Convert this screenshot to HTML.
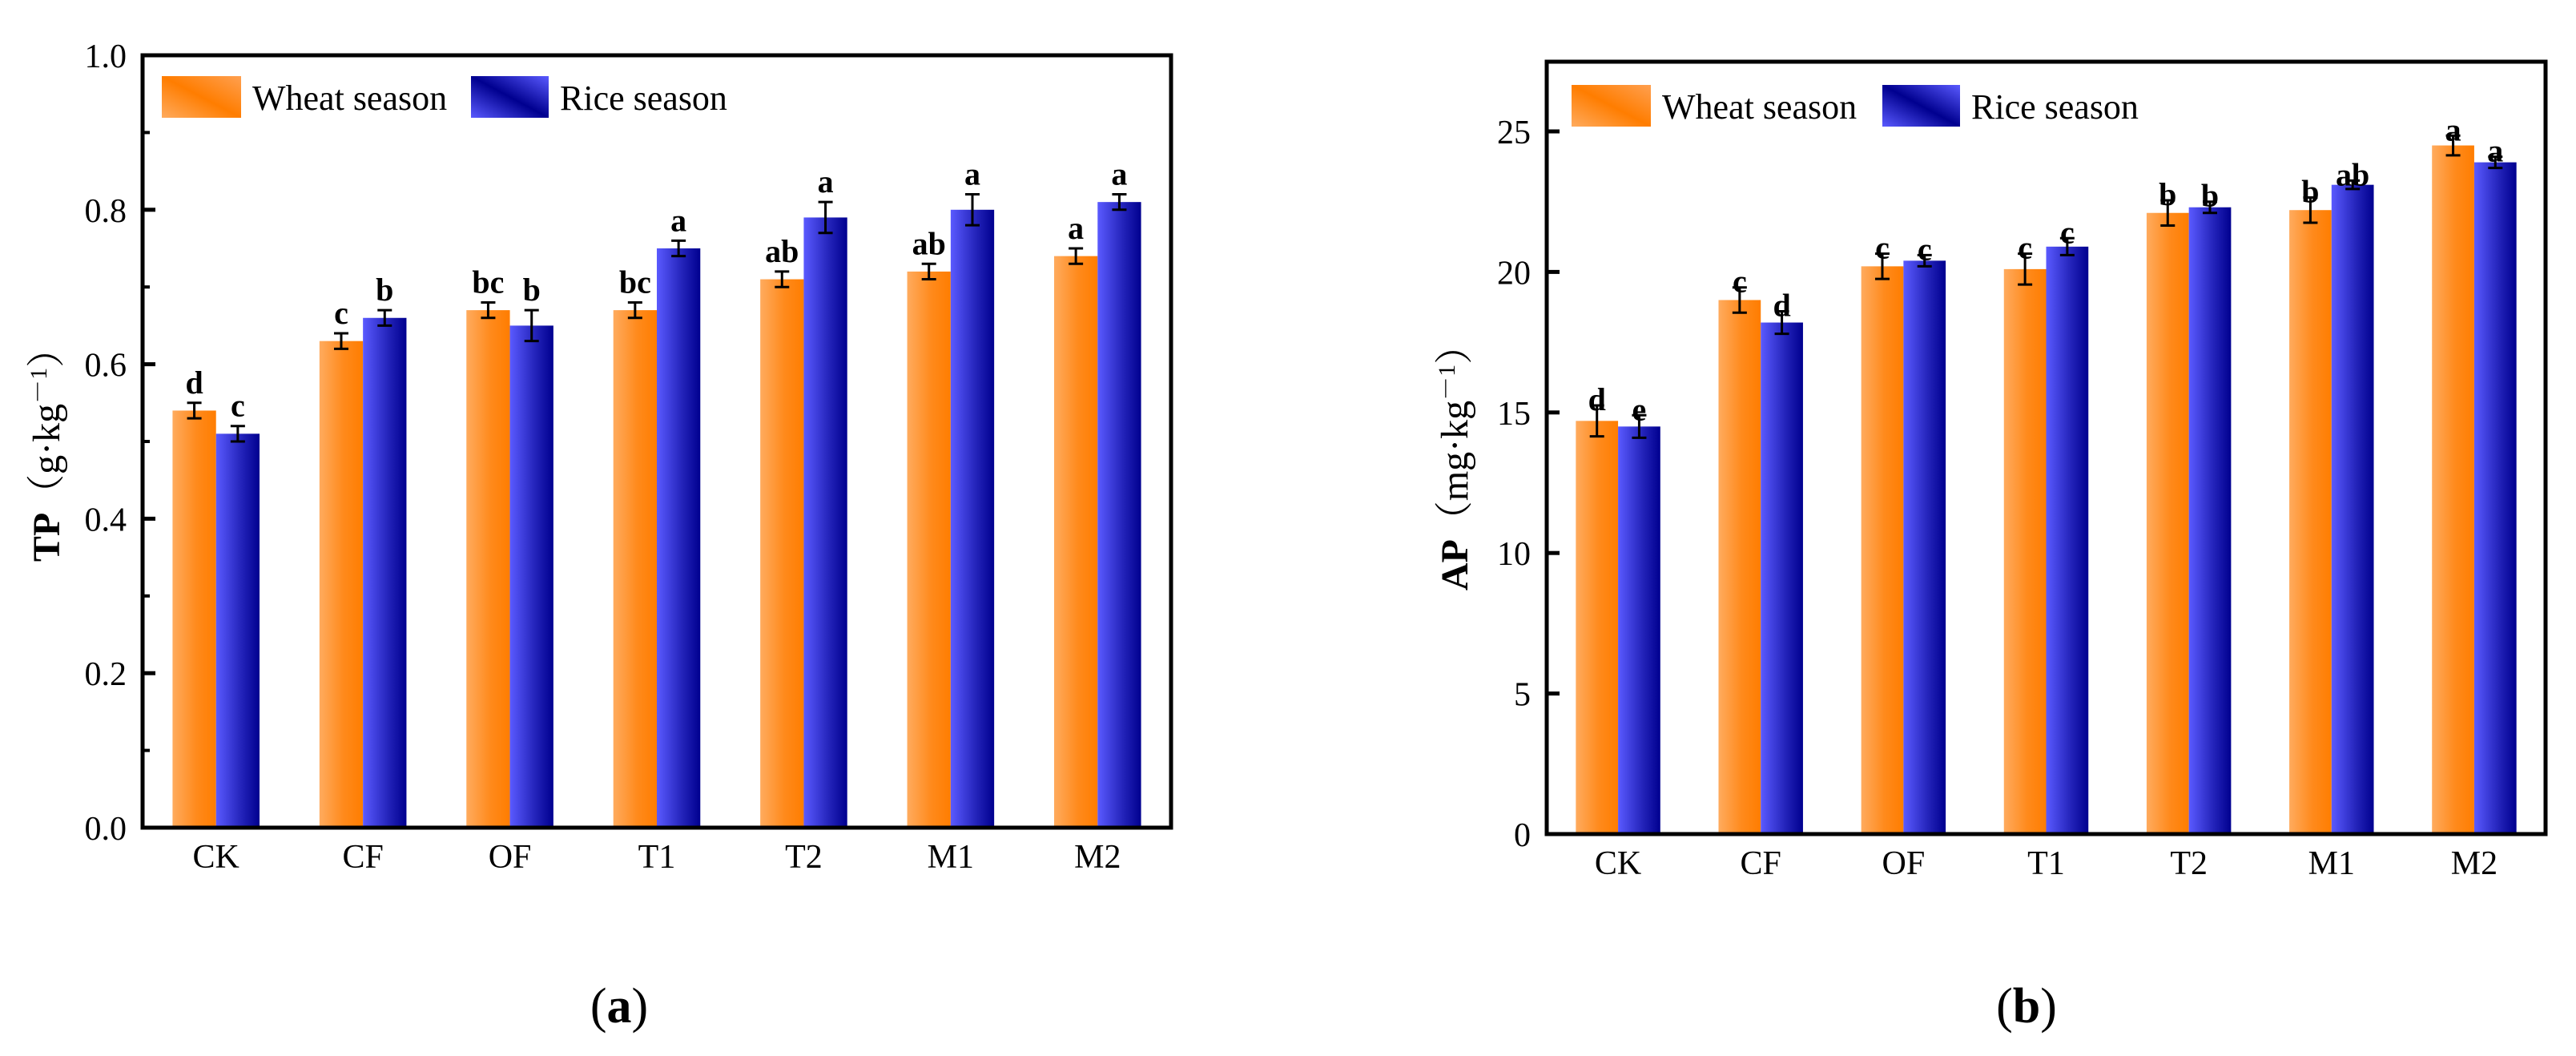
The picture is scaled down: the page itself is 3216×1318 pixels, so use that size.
<!DOCTYPE html>
<html><head><meta charset="utf-8">
<style>
html,body{margin:0;padding:0;background:#fff;}
svg{display:block;}
text{font-family:"Liberation Serif","Noto Serif CJK SC",serif;fill:#000;}
</style></head>
<body>
<svg id="fig" width="3216" height="1318" viewBox="0 0 3216 1318" xmlns="http://www.w3.org/2000/svg">
<defs>
<linearGradient id="gWheat" x1="0" y1="0" x2="1" y2="0">
<stop offset="0" stop-color="#ffab5e"/><stop offset="0.55" stop-color="#ff8a1c"/><stop offset="1" stop-color="#ff7d00"/>
</linearGradient>
<linearGradient id="gRice" x1="0" y1="0" x2="1" y2="0">
<stop offset="0" stop-color="#5a5aff"/><stop offset="0.6" stop-color="#2222b8"/><stop offset="1" stop-color="#00008f"/>
</linearGradient>
<linearGradient id="gWheatL" x1="0" y1="1" x2="1" y2="0">
<stop offset="0" stop-color="#ffab5e"/><stop offset="0.5" stop-color="#ff7d00"/><stop offset="1" stop-color="#ffa050"/>
</linearGradient>
<linearGradient id="gRiceL" x1="0" y1="1" x2="1" y2="0">
<stop offset="0" stop-color="#5a5aff"/><stop offset="0.5" stop-color="#00008f"/><stop offset="1" stop-color="#5a5aff"/>
</linearGradient>
</defs>
</svg>
<script>
const categories = ["CK","CF","OF","T1","T2","M1","M2"];
const tpWheat = [0.54,0.63,0.67,0.67,0.71,0.72,0.74];
const tpWheatErr = [0.01,0.01,0.01,0.01,0.01,0.01,0.01];
const tpRice = [0.51,0.66,0.65,0.75,0.79,0.80,0.81];
const tpRiceErr = [0.01,0.01,0.02,0.01,0.02,0.02,0.01];
const tpWheatLetters = ["d","c","bc","bc","ab","ab","a"];
const tpRiceLetters = ["c","b","b","a","a","a","a"];
const tpTicks = [0.0,0.2,0.4,0.6,0.8,1.0];
const tpTickLabels = ["0.0","0.2","0.4","0.6","0.8","1.0"];
const tpMinorTicks = [0.1,0.3,0.5,0.7,0.9];

const apWheat = [14.7,19.0,20.2,20.1,22.1,22.2,24.5];
const apWheatErr = [0.55,0.45,0.45,0.55,0.45,0.45,0.35];
const apRice = [14.5,18.2,20.4,20.9,22.3,23.1,23.9];
const apRiceErr = [0.4,0.4,0.2,0.3,0.2,0.15,0.2];
const apWheatLetters = ["d","c","c","c","b","b","a"];
const apRiceLetters = ["e","d","c","c","b","ab","a"];
const apTicks = [0,5,10,15,20,25];
const apTickLabels = ["0","5","10","15","20","25"];
const apMinorTicks = [];

const NS = "http://www.w3.org/2000/svg";
const svg = document.getElementById("fig");
function mk(tag, attrs, parent){
  const e = document.createElementNS(NS, tag);
  for (const k in attrs) e.setAttribute(k, attrs[k]);
  (parent||svg).appendChild(e);
  return e;
}

function drawChart(cfg){
  const g = mk("g", {});
  
  
  const L=cfg.left,R=cfg.right,T=cfg.top,B=cfg.bottom;
  const y = v => B - (v - cfg.ymin)/(cfg.ymax - cfg.ymin)*(cfg.y1px);
  const band = (R-L)/categories.length;
  const bw = band*0.296;
  const xc = i => L + band*(i+0.5);
  categories.forEach((c,i)=>{
    const series=[[cfg.wheat,cfg.wheatErr,cfg.wheatLetters,"url(#gWheat)",-1,"wheat"],[cfg.rice,cfg.riceErr,cfg.riceLetters,"url(#gRice)",0,"rice"]];
    series.forEach(s=>{
      const x0 = xc(i) + s[4]*bw;
      const v = s[0][i], e = s[1][i];
      const bar = mk("rect",{x:x0,y:y(v),width:bw,height:B-y(v),fill:s[3]},g);
      
      
      const cx = x0 + bw/2;
      const eb = mk("path",{d:`M${cx-9},${y(v+e)}H${cx+9}M${cx},${y(v+e)}V${y(v-e)}M${cx-9},${y(v-e)}H${cx+9}`,stroke:"#000","stroke-width":3,fill:"none"},g);
      
      
      const lt = mk("text",{x:cx,y:y(v+e)-cfg.letterGap,"text-anchor":"middle","font-size":40,"font-weight":"bold"},g);
      lt.textContent = s[2][i];
      
      
    });
    const xl = mk("text",{x:xc(i),y:B+50,"text-anchor":"middle","font-size":42},g);
    xl.textContent = c;
    
    
  });
  const fr = mk("rect",{x:L,y:T,width:R-L,height:B-T,fill:"none",stroke:"#000","stroke-width":5},g);
  
  
  cfg.ticks.forEach((t,k)=>{
    if (y(t) > T+3 && y(t) < B-3) mk("line",{x1:L,x2:L+16,y1:y(t),y2:y(t),stroke:"#000","stroke-width":5},g);
    const tl = mk("text",{x:L-20,y:y(t)+15,"text-anchor":"end","font-size":42},g);
    tl.textContent = cfg.tickLabels[k];
    
    
  });
  cfg.minor.forEach(t=>{
    mk("line",{x1:L,x2:L+9,y1:y(t),y2:y(t),stroke:"#000","stroke-width":4},g);
  });
  const yt = mk("text",{transform:`translate(${cfg.ytx},${cfg.yty}) rotate(-90)`,"text-anchor":"middle","font-size":48,"font-weight":"bold"},g);
  yt.innerHTML = cfg.ytitle;
  
  
  const lg = mk("g",{},g);
  
  
  mk("rect",{x:cfg.lgx,y:cfg.lgy,width:99,height:52,fill:"url(#gWheatL)"},lg);
  const t1 = mk("text",{x:cfg.lgx+113,y:cfg.lgy+42,"font-size":44},lg);
  t1.textContent="Wheat season";
  
  
  mk("rect",{x:cfg.lgx2,y:cfg.lgy,width:97,height:52,fill:"url(#gRiceL)"},lg);
  const t2 = mk("text",{x:cfg.lgx2+111,y:cfg.lgy+42,"font-size":44},lg);
  t2.textContent="Rice season";
  
  
  const pl = mk("text",{x:cfg.plx,y:1276,"text-anchor":"middle","font-size":62},g);
  pl.innerHTML = '(<tspan font-weight="bold">'+cfg.panel+'</tspan>)';
  
  
}

drawChart({name:"chart-tp",left:178,right:1462,top:69,bottom:1033,ymin:0,ymax:1.0,y1px:964,
  wheat:tpWheat,wheatErr:tpWheatErr,rice:tpRice,riceErr:tpRiceErr,wheatLetters:tpWheatLetters,riceLetters:tpRiceLetters,
  ticks:tpTicks,tickLabels:tpTickLabels,minor:tpMinorTicks,letterGap:12,
  ytitle:'TP<tspan font-weight="normal">（g·kg<tspan dy="-16" font-size="30">－1</tspan><tspan dy="16">）</tspan></tspan>',ytx:74,yty:556,
  lgx:202,lgx2:588,lgy:95,panel:"a",plx:773});

drawChart({name:"chart-ap",left:1931,right:3178,top:77,bottom:1041,ymin:0,ymax:25,y1px:877,
  wheat:apWheat,wheatErr:apWheatErr,rice:apRice,riceErr:apRiceErr,wheatLetters:apWheatLetters,riceLetters:apRiceLetters,
  ticks:apTicks,tickLabels:apTickLabels,minor:apMinorTicks,letterGap:-6,
  ytitle:'AP<tspan font-weight="normal">（mg·kg<tspan dy="-16" font-size="30">－1</tspan><tspan dy="16">）</tspan></tspan>',ytx:1832,yty:572,
  lgx:1962,lgx2:2350,lgy:106,panel:"b",plx:2530});
</script>
</body></html>
